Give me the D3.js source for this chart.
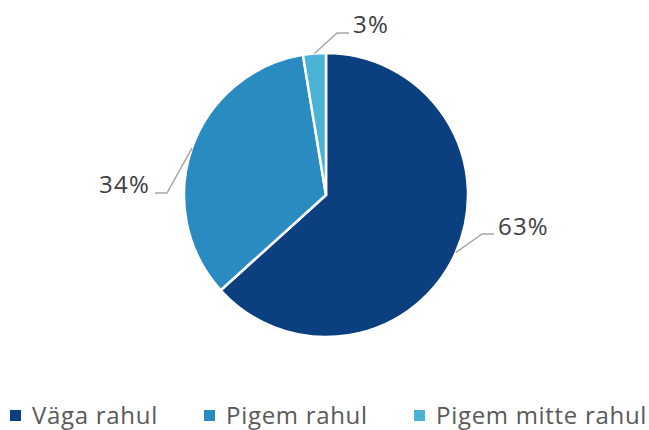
<!DOCTYPE html>
<html><head><meta charset="utf-8">
<script src="https://cdn.jsdelivr.net/npm/d3@7"></script>
<style>html,body{margin:0;padding:0;background:#fff;}svg{display:block;}</style>
</head><body>
<svg id="c" width="649" height="430"></svg>
<script>
const categories = ["Väga rahul", "Pigem rahul", "Pigem mitte rahul"];
const values = [63.3, 34.1, 2.6];
const labels = ["63%", "34%", "3%"];
const colors = ["#0B3F7F", "#2A8BC0", "#4AB2D5"];

const svg = d3.select("#c");
const font = "'Open Sans', sans-serif";
const cx = 326, cy = 195, R = 142;

const pie = d3.pie().sort(null).value(d => d)(values);
const arc = d3.arc().innerRadius(0).outerRadius(R);
const g = svg.append("g").attr("transform", `translate(${cx},${cy})`);
g.selectAll("path").data(pie).join("path")
  .attr("d", arc).attr("fill", (d, i) => colors[i])
  .attr("stroke", "#fff").attr("stroke-width", 2.5).attr("stroke-linejoin", "round");

// leader lines and labels
const layout = [
  {elbow: [156, 39], end: [168, 39], anchor: "start", tx: 172, ty: 40},
  {elbow: [-159, -2], end: [-171, -2], anchor: "end", tx: -176, ty: -2},
  {elbow: [11, -162], end: [23, -162], anchor: "start", tx: 27, ty: -162}
];
pie.forEach((d, i) => {
  const a = (d.startAngle + d.endAngle) / 2;
  const p0 = [Math.sin(a) * R, -Math.cos(a) * R];
  const L = layout[i];
  g.append("polyline")
    .attr("points", [p0, L.elbow, L.end].map(p => p.join(",")).join(" "))
    .attr("fill", "none").attr("stroke", "#A6A6A6").attr("stroke-width", 1.5);
  g.append("text").attr("x", L.tx).attr("y", L.ty)
    .attr("text-anchor", L.anchor)
    .attr("font-family", font).attr("font-size", 24).attr("fill", "#404040")
    .attr("letter-spacing", 1.2)
    .text(labels[i]);
});

// legend
const legX = [10, 204, 414];
const leg = svg.append("g");
categories.forEach((c, i) => {
  leg.append("rect").attr("x", legX[i]).attr("y", 410).attr("width", 11).attr("height", 11)
    .attr("fill", colors[i]);
  leg.append("text").attr("x", legX[i] + 22).attr("y", 424)
    .attr("font-family", font).attr("font-size", 24).attr("fill", "#595959")
    .attr("letter-spacing", 0.7)
    .text(c);
});
</script>
</body></html>
